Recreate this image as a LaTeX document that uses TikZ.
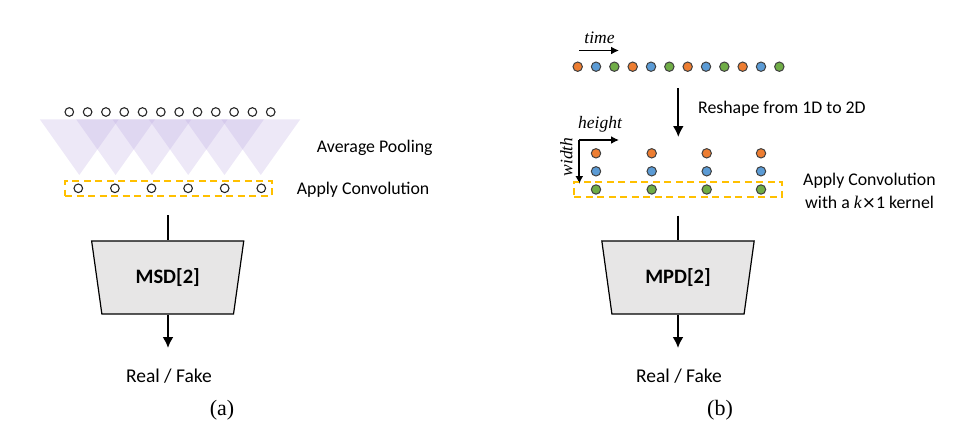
\documentclass[tikz,border=0pt]{standalone}
\usepackage{fontspec}
\setmainfont{Carlito}
\newfontfamily\seriffont{Liberation Serif}
\usetikzlibrary{shapes.geometric,arrows.meta}
\definecolor{dotorange}{HTML}{ED7D31}
\definecolor{dotblue}{HTML}{5B9BD5}
\definecolor{dotgreen}{HTML}{70AD47}
\definecolor{boxyellow}{HTML}{FFC000}
\definecolor{poolpurple}{RGB}{183,163,223}
\definecolor{trapgray}{RGB}{231,230,230}
\begin{document}
\begin{tikzpicture}[x=1pt,y=-1pt,
  lbl/.style={font=\fontsize{17.8}{20}\selectfont, inner sep=0pt},
  rf/.style={font=\fontsize{19.5}{22}\selectfont, inner sep=0pt},
  captxt/.style={font=\seriffont\fontsize{22}{24}\selectfont, inner sep=0pt},
  itl/.style={font=\seriffont\itshape\fontsize{17.5}{20}\selectfont, inner sep=0pt},
  hollow/.style={circle, draw=black!85, line width=1.1pt, minimum size=8.6pt, inner sep=0pt, fill=white},
  cdot/.style={circle, draw=black!75, line width=1pt, minimum size=9.4pt, inner sep=0pt, fill=#1},
  dashbox/.style={draw=boxyellow, line width=1.8pt, dash pattern=on 7pt off 4.5pt, inner sep=0pt},
  disc/.style={trapezium, draw=black, line width=1.2pt, fill=trapgray, trapezium angle=74.5,
    minimum width=153pt, minimum height=73pt, trapezium stretches=true, shape border rotate=180,
    inner sep=0pt, font=\bfseries\fontsize{20.5}{23}\selectfont},
  arr/.style={line width=2pt, -{Latex[length=11pt,width=11pt]}},
  smallarr/.style={line width=1.8pt, -{Latex[length=8pt,width=8pt]}},
  plain/.style={line width=2pt}
]
\useasboundingbox (0,0) rectangle (974,439);

% ---------------- (a) MSD ----------------
\foreach \i in {0,...,5}{
  \fill[poolpurple, fill opacity=0.25] ({79.3+36.3*\i-39.5},119.3) -- ({79.3+36.3*\i+39.5},119.3) -- ({79.3+36.3*\i},175) -- cycle;
}
\foreach \i in {1,...,12}{
  \node[hollow] (in\i) at ({69.3+18.31*(\i-1)},112) {};
}
\node[dashbox, minimum width=206.7pt, minimum height=14.7pt] (boxa) at (168.35,188.35) {};
\foreach \i in {1,...,6}{
  \node[hollow] (pa\i) at ({78.3+36.6*(\i-1)},188.3) {};
}
\node[lbl, anchor=west] (avgpool) at (316.7,148.3) {Average Pooling};
\node[lbl, anchor=west] (convA) at (296.7,189.5) {Apply Convolution};

\node[disc] (msd) at (167.7,277.5) {MSD[2]};
\coordinate (msdin) at (168,215);
\coordinate (msdout) at (168,348);
\draw[plain] (msdin) -- (msdin |- msd.north);
\draw[arr] (msdin |- msd.south) -- (msdout);
\node[rf] (rfa) at (169,376) {Real / Fake};
\node[captxt] (capa) at (222,410) {(a)};

% ---------------- (b) MPD ----------------
\node[itl] (time) at (599.5,37.5) {time};
\coordinate (tA) at (579.3,50.5);
\coordinate (tB) at (619,50.5);
\draw[smallarr] (tA) -- (tB);

\foreach \i/\c in {1/dotorange,2/dotblue,3/dotgreen,4/dotorange,5/dotblue,6/dotgreen,7/dotorange,8/dotblue,9/dotgreen,10/dotorange,11/dotblue,12/dotgreen}{
  \node[cdot=\c] (t\i) at ({577.7+18.33*(\i-1)},66.7) {};
}

\coordinate (rsA) at (678.3,88);
\coordinate (rsB) at (678.3,137);
\draw[arr] (rsA) -- (rsB);
\node[lbl, anchor=west] (reshape) at (698,109) {Reshape from 1D to 2D};

\coordinate (hw) at (579.3,140);
\coordinate (hE) at (619,140);
\coordinate (wS) at (579.3,184);
\draw[smallarr] (hw) -- (hE);
\draw[smallarr] (hw) -- (wS);
\node[itl] (height) at (600,124.5) {height};
\node[itl, rotate=90] (width) at (566.5,157) {width};

\foreach \j/\x in {1/596,2/651.7,3/706.7,4/761}{
  \node[cdot=dotorange] (g\j a) at (\x,153.3) {};
  \node[cdot=dotblue] (g\j b) at (\x,171.3) {};
  \node[cdot=dotgreen] (g\j c) at (\x,189.5) {};
}
\node[dashbox, minimum width=207.4pt, minimum height=15.6pt] (boxb) at (678,189.5) {};
\node[lbl, anchor=west] (convB) at (803,181) {Apply Convolution};
\node[lbl, anchor=west] (kern) at (805,202.5) {with a {\seriffont\itshape k}{\fontspec{DejaVu Sans}\fontsize{17}{19}\selectfont×}1 kernel};

\node[disc] (mpd) at (678,277.5) {MPD[2]};
\coordinate (mpdin) at (678,215.7);
\coordinate (mpdout) at (678,348);
\draw[plain] (mpdin) -- (mpdin |- mpd.north);
\draw[arr] (mpdin |- mpd.south) -- (mpdout);
\node[rf] (rfb) at (679,376) {Real / Fake};
\node[captxt] (capb) at (720,410) {(b)};
\end{tikzpicture}
\end{document}
